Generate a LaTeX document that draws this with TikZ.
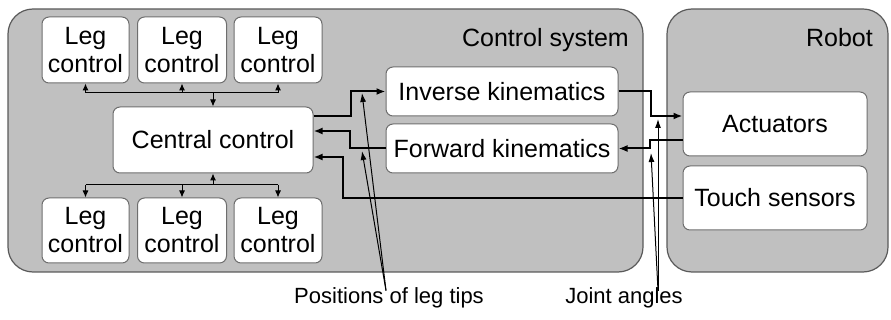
\documentclass[tikz,border=0pt]{standalone}
\usepackage{fontspec}
\setmainfont{Liberation Sans}
\usetikzlibrary{arrows.meta}
\definecolor{panelgray}{HTML}{C0C0C0}
\definecolor{edgegray}{HTML}{5A5A5A}
\definecolor{boxedge}{HTML}{6E6E6E}
\begin{document}
\begin{tikzpicture}[x=1pt,y=-1pt,
  panel/.style={draw=edgegray,fill=panelgray,line width=1.2pt,rounded corners=25pt},
  wbox/.style={draw=boxedge,fill=white,line width=1pt,rounded corners=7pt,
    inner sep=0pt,align=center,font=\fontsize{25}{28}\selectfont},
  title/.style={inner sep=0pt,font=\fontsize{25}{28}\selectfont},
  lbl/.style={inner sep=0pt,font=\fontsize{22}{24}\selectfont},
  flow/.style={line width=2pt,-{Latex[length=9pt,width=7pt]}},
  legline/.style={line width=1pt},
  legarrow/.style={line width=1pt,-{Latex[length=7pt,width=6pt]}},
  pointer/.style={line width=1pt,-{Latex[length=9pt,width=6pt]}}]
\useasboundingbox (0,0) rectangle (891,320);
% panels
\draw[panel] (8,9) rectangle (643,272);
\draw[panel] (667,9) rectangle (888,272);
\node[title,anchor=base east] (cstitle) at (629,47) {Control system};
\node[title,anchor=base east] (rtitle) at (873,47) {Robot};
% leg controls
\node[wbox,minimum width=87pt,minimum height=66pt] (lt1) at (85.5,50) {Leg\\control};
\node[wbox,minimum width=89pt,minimum height=66pt] (lt2) at (182,50) {Leg\\control};
\node[wbox,minimum width=88pt,minimum height=66pt] (lt3) at (278,50) {Leg\\control};
\node[wbox,minimum width=87pt,minimum height=65pt] (lb1) at (85.5,230.5) {Leg\\control};
\node[wbox,minimum width=89pt,minimum height=65pt] (lb2) at (182,230.5) {Leg\\control};
\node[wbox,minimum width=88pt,minimum height=65pt] (lb3) at (278,230.5) {Leg\\control};
% central
\node[wbox,minimum width=200pt,minimum height=66pt] (central) at (213,140) {Central control};
% kinematics
\node[wbox,minimum width=232pt,minimum height=49pt] (inv) at (502,91.5) {Inverse kinematics};
\node[wbox,minimum width=232pt,minimum height=49pt] (fwd) at (502,148.5) {Forward kinematics};
% robot parts
\node[wbox,minimum width=184pt,minimum height=64pt] (act) at (775,124) {Actuators};
\node[wbox,minimum width=184pt,minimum height=64pt] (touch) at (775,198) {Touch sensors};
% leg buses
\coordinate (tbus) at (213,93);
\coordinate (bbus) at (213,185);
\draw[legline] (lt1.south |- tbus) -- (lt3.south |- tbus);
\draw[legarrow] (lt1.south |- tbus) -- (lt1.south);
\draw[legarrow] (lt2.south |- tbus) -- (lt2.south);
\draw[legarrow] (lt3.south |- tbus) -- (lt3.south);
\draw[legarrow] (tbus) -- (central.north);
\draw[legline] (lb1.north |- bbus) -- (lb3.north |- bbus);
\draw[legarrow] (lb1.north |- bbus) -- (lb1.north);
\draw[legarrow] (lb2.north |- bbus) -- (lb2.north);
\draw[legarrow] (lb3.north |- bbus) -- (lb3.north);
\draw[legarrow] (bbus) -- (central.south);
% main flows
\draw[flow] (central.east |- inv.south) -- ++(37,0) |- (inv.west);
\draw[flow] (fwd.west) -- ++(-36,0) |- ([yshift=9pt]central.east);
\draw[flow] (touch.west) -- ++(-340,0) |- ([yshift=-17pt]central.east);
\draw[flow] (inv.east) -- ++(32,0) |- ([yshift=8pt]act.west);
\draw[flow] ([yshift=-16pt]act.west) -- ++(-33,0) |- (fwd.east);
% labels
\node[lbl] (pos) at (389,298) {Positions of leg tips};
\node[lbl] (ja) at (624,298) {Joint angles};
\coordinate (p1) at (362,93);
\coordinate (p2) at (362,151);
\coordinate (j1) at (658,119);
\coordinate (j2) at (651,153);
\draw[pointer] ([xshift=-3pt,yshift=-3pt]pos.north) -- (p1);
\draw[pointer] ([xshift=-3pt,yshift=-3pt]pos.north) -- (p2);
\draw[pointer] ([xshift=34pt,yshift=-3pt]ja.north) -- (j1);
\draw[pointer] ([xshift=34pt,yshift=-3pt]ja.north) -- (j2);
\end{tikzpicture}
\end{document}
